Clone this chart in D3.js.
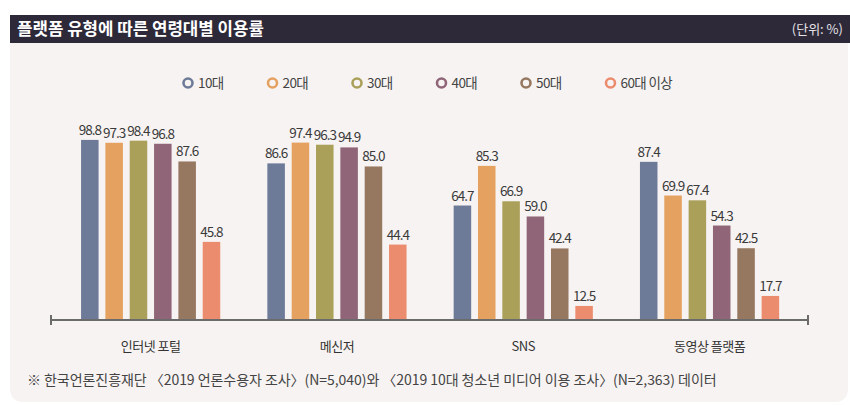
<!DOCTYPE html>
<html>
<head>
<meta charset="utf-8">
<script src="https://cdn.jsdelivr.net/npm/d3@7"></script>
<style>
  body { margin: 0; background: #fff; }
  svg text { font-family: "Noto Sans CJK KR", "Noto Sans", sans-serif; }
</style>
</head>
<body>
<div id="chart"></div>
<script>
// data
var categories = ["인터넷 포털", "메신저", "SNS", "동영상 플랫폼"];
var ageGroups = ["10대", "20대", "30대", "40대", "50대", "60대 이상"];
var teens = [98.8, 86.6, 64.7, 87.4];
var twenties = [97.3, 97.4, 85.3, 69.9];
var thirties = [98.4, 96.3, 66.9, 67.4];
var forties = [96.8, 94.9, 59.0, 54.3];
var fifties = [87.6, 85.0, 42.4, 42.5];
var sixtiesPlus = [45.8, 44.4, 12.5, 17.7];
var colors = ["#6d7a98", "#e4a15f", "#aaa059", "#8f6577", "#967861", "#ec8c6f"];

var series = [teens, twenties, thirties, forties, fifties, sixtiesPlus];

var svgWidth = 850;
var svgHeight = 405;

var svg = d3.select("#chart")
  .append("svg")
  .attr("width", svgWidth)
  .attr("height", svgHeight);

// panel with rounded bottom corners
var px0 = 10, px1 = 848, py0 = 15, py1 = 402, r = 14;
svg.append("path")
  .attr("d", "M" + px0 + "," + py0 + "H" + px1 + "V" + (py1 - r) +
    "Q" + px1 + "," + py1 + " " + (px1 - r) + "," + py1 +
    "H" + (px0 + r) + "Q" + px0 + "," + py1 + " " + px0 + "," + (py1 - r) + "Z")
  .attr("fill", "#f7f3f2");

// header bar
svg.append("rect")
  .attr("x", 10).attr("y", 15)
  .attr("width", 840).attr("height", 28)
  .attr("fill", "#2d2939");

svg.append("text")
  .attr("x", 17).attr("y", 35)
  .attr("fill", "#fff")
  .attr("font-size", 16.8)
  .attr("font-weight", "bold")
  .text("플랫폼 유형에 따른 연령대별 이용률");

svg.append("text")
  .attr("x", 843).attr("y", 34)
  .attr("text-anchor", "end")
  .attr("fill", "#e6e3e8")
  .attr("font-size", 13)
  .text("(단위: %)");

// legend
var legend = svg.append("g").attr("class", "legend");
ageGroups.forEach(function(a, i) {
  var lx = 188 + i * 84.5;
  legend.append("circle")
    .attr("cx", lx).attr("cy", 83).attr("r", 4.5)
    .attr("fill", "none")
    .attr("stroke", colors[i])
    .attr("stroke-width", 2.6);
  legend.append("text")
    .attr("x", lx + 10).attr("y", 88)
    .attr("fill", "#444")
    .attr("font-size", 13.5)
    .attr("letter-spacing", -0.6)
    .text(a);
});

// scales
var x0 = d3.scaleBand()
  .domain(categories)
  .range([57.5, 802.7]);

var x1 = d3.scaleBand()
  .domain(d3.range(ageGroups.length))
  .range([x0.bandwidth() / 2 - 73, x0.bandwidth() / 2 + 73])
  .paddingInner(0.28)
  .paddingOuter(0.14);

var y = d3.scaleLinear()
  .domain([5.2, 100])
  .range([320, 137.6]);

// bars
var groups = svg.selectAll("g.cat")
  .data(categories)
  .enter()
  .append("g")
  .attr("class", "cat")
  .attr("transform", function(d) { return "translate(" + x0(d) + ",0)"; });

groups.each(function(cat, ci) {
  var g = d3.select(this);
  var vals = series.map(function(s) { return s[ci]; });
  g.selectAll("rect")
    .data(vals)
    .enter()
    .append("rect")
    .attr("x", function(d, i) { return x1(i); })
    .attr("y", function(d) { return y(d); })
    .attr("width", x1.bandwidth())
    .attr("height", function(d) { return 320 - y(d); })
    .attr("fill", function(d, i) { return colors[i]; });
  g.selectAll("text.val")
    .data(vals)
    .enter()
    .append("text")
    .attr("class", "val")
    .attr("x", function(d, i) { return x1(i) + x1.bandwidth() / 2; })
    .attr("y", function(d) { return y(d) - 5; })
    .attr("text-anchor", "middle")
    .attr("fill", "#3a3a3a")
    .attr("font-size", 13.5)
    .attr("letter-spacing", -1)
    .text(function(d) { return d.toFixed(1); });
});

// axis
var xAxis = d3.axisBottom(x0).tickSize(0).tickPadding(22);
var ax = svg.append("g")
  .attr("transform", "translate(0,320)")
  .call(xAxis);
ax.select(".domain").remove();
ax.selectAll("text")
  .attr("font-size", 13)
  .attr("fill", "#333")
  .attr("letter-spacing", -0.5)
  .style("font-family", "'Noto Sans CJK KR', sans-serif");

svg.append("line")
  .attr("x1", 51).attr("x2", 808)
  .attr("y1", 320).attr("y2", 320)
  .attr("stroke", "#6b6b6b").attr("stroke-width", 2);
[51, 808].forEach(function(ex) {
  svg.append("line")
    .attr("x1", ex).attr("x2", ex)
    .attr("y1", 315).attr("y2", 325)
    .attr("stroke", "#6b6b6b").attr("stroke-width", 2);
});

// footnote
svg.append("text")
  .attr("x", 27).attr("y", 385)
  .attr("fill", "#444")
  .attr("font-size", 14)
  .attr("letter-spacing", -0.05)
  .text("※ 한국언론진흥재단 〈2019 언론수용자 조사〉(N=5,040)와 〈2019 10대 청소년 미디어 이용 조사〉(N=2,363) 데이터");
</script>
</body>
</html>
